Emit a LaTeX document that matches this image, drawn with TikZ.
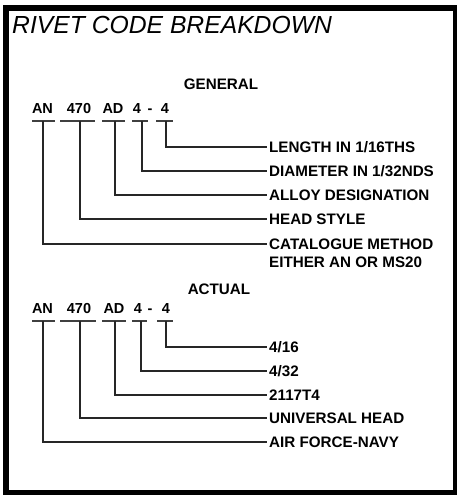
\documentclass[tikz,border=0pt]{standalone}
\usepackage{fontspec}
\setmainfont{Liberation Sans}
\begin{document}
\begin{tikzpicture}[x=1pt,y=-1pt,
 lbl/.style={anchor=west,inner xsep=2pt,inner ysep=0pt,text height=10.8pt,text depth=0pt,font=\fontsize{15.2}{18}\selectfont\bfseries},
 code/.style={anchor=base,inner sep=0pt,font=\fontsize{14.5}{17}\selectfont\bfseries},
 head/.style={anchor=base,inner sep=0pt,font=\fontsize{15.2}{18}\selectfont\bfseries},
 conn/.style={draw=black!85,line width=1.1pt},
 uline/.style={draw=black!75,line width=1.3pt}]
\useasboundingbox (0,0) rectangle (457,496);
\fill[white] (0,0) rectangle (457,496);
% frame
\fill[black] (3,5) rectangle (457,11);
\fill[black] (3,5) rectangle (9,495);
\fill[black] (453,5) rectangle (457,495);
\fill[black] (3,490) rectangle (457,495);
% title
\node[anchor=base west,inner sep=0pt,font=\fontsize{24.7}{28}\selectfont\itshape] (title) at (12,33) {RIVET CODE BREAKDOWN};
% ---------- GENERAL ----------
\node[head] (gen) at (221,89) {GENERAL};
\node[code] (gAN) at (42.5,113) {AN};
\node[code] (g470) at (79,113) {470};
\node[code] (gAD) at (113,113) {AD};
\node[code] (g4a) at (137,113) {4};
\node[code] (gdash) at (150,113) {-};
\node[code] (g4b) at (165,113) {4};
\draw[uline] (32,121) -- (55,121);
\draw[uline] (60,121) -- (95,121);
\draw[uline] (102,121) -- (125,121);
\draw[uline] (132,121) -- (148,121);
\draw[uline] (156,121) -- (173,121);
\coordinate (gt1) at (166,121);
\coordinate (gt2) at (142,121);
\coordinate (gt3) at (115,121);
\coordinate (gt4) at (80,121);
\coordinate (gt5) at (43,121);
\node[lbl] (gl1) at (267,147) {LENGTH IN 1/16THS};
\node[lbl] (gl2) at (267,171) {DIAMETER IN 1/32NDS};
\node[lbl] (gl3) at (267,195) {ALLOY DESIGNATION};
\node[lbl] (gl4) at (267,219) {HEAD STYLE};
\node[lbl] (gl5) at (267,244) {CATALOGUE METHOD};
\node[lbl] (gl5b) at (267,262) {EITHER AN OR MS20};
\draw[conn] (gt1) |- (gl1.west);
\draw[conn] (gt2) |- (gl2.west);
\draw[conn] (gt3) |- (gl3.west);
\draw[conn] (gt4) |- (gl4.west);
\draw[conn] (gt5) |- (gl5.west);
% ---------- ACTUAL ----------
\node[head] (act) at (219,294) {ACTUAL};
\node[code] (aAN) at (42.5,313) {AN};
\node[code] (a470) at (79,313) {470};
\node[code] (aAD) at (114,313) {AD};
\node[code] (a4a) at (138,313) {4};
\node[code] (adash) at (150,313) {-};
\node[code] (a4b) at (166,313) {4};
\draw[uline] (32,321) -- (55,321);
\draw[uline] (60,321) -- (96,321);
\draw[uline] (102,321) -- (126,321);
\draw[uline] (132,321) -- (147,321);
\draw[uline] (157,321) -- (173,321);
\coordinate (at1) at (166,321);
\coordinate (at2) at (141,321);
\coordinate (at3) at (115,321);
\coordinate (at4) at (80,321);
\coordinate (at5) at (43,321);
\node[lbl] (al1) at (267,347) {4/16};
\node[lbl] (al2) at (267,371) {4/32};
\node[lbl] (al3) at (267,395) {2117T4};
\node[lbl] (al4) at (267,418) {UNIVERSAL HEAD};
\node[lbl] (al5) at (267,442) {AIR FORCE-NAVY};
\draw[conn] (at1) |- (al1.west);
\draw[conn] (at2) |- (al2.west);
\draw[conn] (at3) |- (al3.west);
\draw[conn] (at4) |- (al4.west);
\draw[conn] (at5) |- (al5.west);
\end{tikzpicture}
\end{document}
